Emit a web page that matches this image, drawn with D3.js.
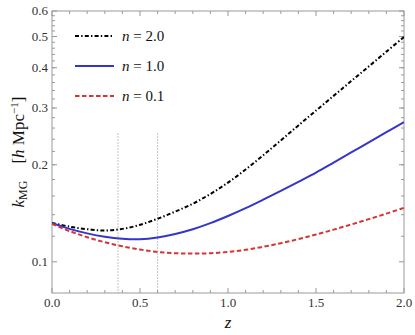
<!DOCTYPE html>
<html><head><meta charset="utf-8">
<script src="https://cdn.jsdelivr.net/npm/d3@7"></script>
<style>body{margin:0;background:#fff;font-family:"Liberation Serif"}svg{display:block}svg text{font-family:"Liberation Serif" !important}</style>
</head><body><svg id="c" width="415" height="335" style="font-family:'Liberation Serif'"></svg>
<script>
const zValues = [0,0.1,0.2,0.3,0.4,0.5,0.6,0.7,0.8,0.9,1.0,1.1,1.2,1.3,1.4,1.5,1.6,1.7,1.8,1.9,2.0];
const kN20 = [0.132,0.1285,0.1262,0.1250,0.1265,0.1302,0.1360,0.1431,0.1514,0.1623,0.1761,0.1933,0.2140,0.2380,0.2649,0.2945,0.3272,0.3636,0.4039,0.4488,0.4986];
const kN10 = [0.132,0.1265,0.1225,0.1196,0.1179,0.1175,0.1190,0.1220,0.1262,0.1318,0.1387,0.1467,0.1559,0.1660,0.1771,0.1892,0.2032,0.2184,0.2348,0.2524,0.2713];
const kN01 = [0.131,0.1245,0.1192,0.1150,0.1117,0.1091,0.1073,0.1063,0.1060,0.1063,0.1073,0.1089,0.1113,0.1142,0.1176,0.1215,0.1258,0.1305,0.1356,0.1411,0.1470];
const seriesLabels = ["2.0","1.0","0.1"];
const xTicks = [0,0.5,1.0,1.5,2.0];
const yTicks = [0.1,0.2,0.3,0.4,0.5,0.6];
const vLines = [0.375,0.6];
const vLineTop = 0.25;

const FONT = "Liberation Serif";
const svg = d3.select("#c");
const L=52, R=404, T=11, B=293;
const x = d3.scaleLinear().domain([0,2]).range([L,R]);
const y = d3.scaleLog().domain([0.08,0.6]).range([B,T]);
const frame = "#9a9a9a";

vLines.forEach(v=>{
  svg.append("line").attr("x1",x(v)).attr("x2",x(v)).attr("y1",y(vLineTop)).attr("y2",B)
    .attr("stroke","#888").attr("stroke-width",1).attr("stroke-dasharray","1,2");
});

svg.append("rect").attr("x",L).attr("y",T).attr("width",R-L).attr("height",B-T)
  .attr("fill","none").attr("stroke",frame).attr("stroke-width",1);

const xMinor = d3.range(0,2.0001,0.1);
xMinor.forEach(v=>{
  const major = xTicks.some(t=>Math.abs(t-v)<1e-6);
  const len = major?5:3;
  svg.append("line").attr("x1",x(v)).attr("x2",x(v)).attr("y1",B).attr("y2",B-len).attr("stroke",frame);
  svg.append("line").attr("x1",x(v)).attr("x2",x(v)).attr("y1",T).attr("y2",T+len).attr("stroke",frame);
});
xTicks.forEach(v=>{
  svg.append("text").style("font-family",FONT).attr("x",x(v)).attr("y",B+14).attr("text-anchor","middle")
    .attr("font-size",13).attr("fill","#333").text(v.toFixed(1));
});
const yMinor = d3.range(0.12,0.5801,0.02);
yMinor.forEach(v=>{
  svg.append("line").attr("x1",L).attr("x2",L+3).attr("y1",y(v)).attr("y2",y(v)).attr("stroke",frame);
  svg.append("line").attr("x1",R).attr("x2",R-3).attr("y1",y(v)).attr("y2",y(v)).attr("stroke",frame);
});
yTicks.forEach(v=>{
  svg.append("line").attr("x1",L).attr("x2",L+5).attr("y1",y(v)).attr("y2",y(v)).attr("stroke",frame);
  svg.append("line").attr("x1",R).attr("x2",R-5).attr("y1",y(v)).attr("y2",y(v)).attr("stroke",frame);
  svg.append("text").style("font-family",FONT).attr("x",L-4).attr("y",y(v)+4).attr("text-anchor","end")
    .attr("font-size",13).attr("fill","#333").text(v.toFixed(1));
});

const styles = [
  {data:kN20, color:"#000", dash:"4,2.2,1.4,2.2"},
  {data:kN10, color:"#3535cc", dash:null},
  {data:kN01, color:"#d43535", dash:"4.5,2.5"}
];
const line = d3.line().x(d=>x(d[0])).y(d=>y(d[1])).curve(d3.curveCatmullRom);
svg.append("defs").append("clipPath").attr("id","cp").append("rect")
  .attr("x",L).attr("y",T).attr("width",R-L).attr("height",B-T);
styles.forEach(s=>{
  svg.append("path").attr("d",line(zValues.map((z,i)=>[z,s.data[i]])))
    .attr("fill","none").attr("stroke",s.color).attr("stroke-width",2)
    .attr("stroke-dasharray",s.dash).attr("clip-path","url(#cp)");
});

const legY=[36,66,96];
styles.forEach((s,i)=>{
  svg.append("line").attr("x1",75).attr("x2",114).attr("y1",legY[i]).attr("y2",legY[i])
    .attr("stroke",s.color).attr("stroke-width",2).attr("stroke-dasharray",s.dash);
  const t = svg.append("text").style("font-family",FONT).attr("x",122).attr("y",legY[i]+5).attr("font-size",15).attr("fill","#111");
  t.append("tspan").attr("font-style","italic").text("n");
  t.append("tspan").text(" = "+seriesLabels[i]);
});

svg.append("text").style("font-family",FONT).attr("x",x(1)).attr("y",328).attr("text-anchor","middle")
  .attr("font-size",17).attr("font-style","italic").attr("fill","#111").text("z");
const yl = svg.append("text").style("font-family",FONT).attr("transform",`translate(24,${(T+B)/2}) rotate(-90)`)
  .attr("text-anchor","middle").attr("font-size",17).attr("fill","#111");
yl.append("tspan").attr("font-style","italic").text("k");
yl.append("tspan").attr("font-size",12).attr("dy",3).text("MG");
yl.append("tspan").attr("dy",-3).text("\u2002\u2002[");
yl.append("tspan").attr("font-style","italic").text("h");
yl.append("tspan").text(" Mpc");
yl.append("tspan").attr("font-size",11).attr("dy",-6).text("\u22121");
yl.append("tspan").attr("dy",6).text("]");
</script></body></html>
